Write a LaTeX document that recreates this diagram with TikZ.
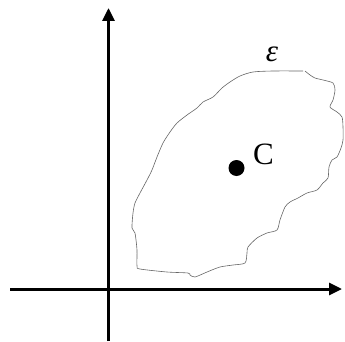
\documentclass[tikz,border=0pt]{standalone}
\usepackage{fontspec}
\setmainfont{Liberation Serif}
\usetikzlibrary{arrows.meta}
\begin{document}
\begin{tikzpicture}[x=1pt,y=-1pt,
  axis/.style={line width=3pt,-{Triangle[length=13pt,width=12pt]}},
  region/.style={draw=black!60,line width=0.6pt},
  dot/.style={circle,fill,inner sep=0pt,minimum size=16pt},
  every node/.style={font=\fontsize{31}{33}\selectfont}]
\useasboundingbox (0,0) rectangle (345,342);
\coordinate (ybot) at (108.5,341);
\coordinate (ytop) at (108.5,8);
\coordinate (xleft) at (10,289);
\coordinate (xright) at (342,289);
\draw[axis] (ybot) -- (ytop);
\draw[axis] (xleft) -- (xright);
% boundary of the region
\draw[region] plot[smooth,tension=0.45] coordinates{
 (303,71) (273,71) (253,72) (240,76) (230,82) (222,88) (213,97) (203,102)
 (197,108) (187,115) (177,123) (170,132) (163,143) (157,157) (152,170)
 (147,180) (140,193) (135,203) (133,213) (132,228) (135,233) (137,250)
 (137,266) (140,269) (167,272) (188,273) (190,275) (195,277) (207,272)
 (220,267) (233,265) (245,263) (247,253) (248,247) (257,238) (267,233)
 (277,230) (280,220) (285,207) (290,202) (298,198) (307,193) (317,190)
 (323,183) (328,178) (329,167) (332,160) (337,157) (341,148) (343,140)
 (343,127) (342,117) (337,112) (330,107) (333,100) (335,90) (333,83)
 (323,80) (315,78) (310,75) (305,71)};
\node[dot] (c) at (236.5,168) {};
\node[anchor=west,inner sep=0pt] (clabel) at (253,154.5) {C};
\node[inner sep=0pt] (eps) at (272,54) {\itshape ε};
\end{tikzpicture}
\end{document}
